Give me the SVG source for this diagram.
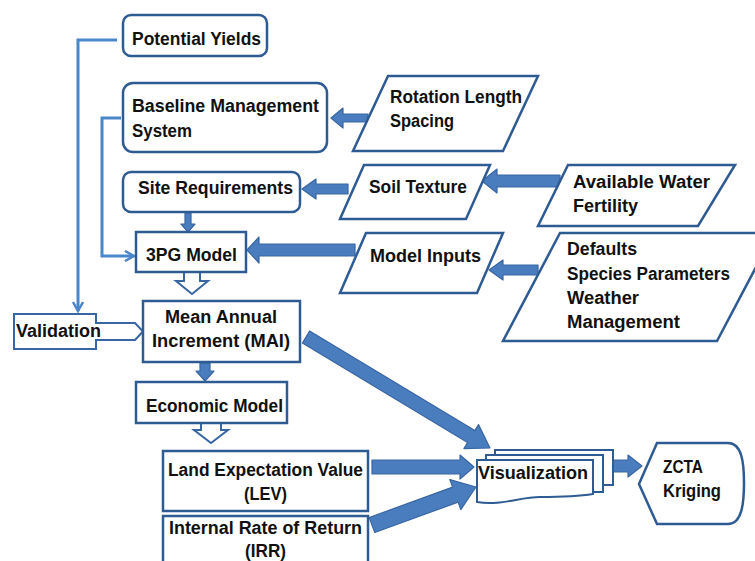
<svg xmlns="http://www.w3.org/2000/svg" width="755" height="561" viewBox="0 0 755 561">
<style>
.node{fill:#fff;stroke:#2e5b92;stroke-width:2.5}
.t{font-family:"Liberation Sans",Arial,sans-serif;font-weight:bold;font-size:18px;fill:#111}
.thick{fill:#4a7dbd;stroke:#3866a3;stroke-width:1.2;stroke-linejoin:round}
.hollow{fill:#fff;stroke:#3866a3;stroke-width:2;stroke-linejoin:miter}
.thin{fill:none;stroke:#4a87c9;stroke-width:3}
</style>
<defs>
<marker id="chev" viewBox="0 0 12 12" refX="10" refY="6" markerWidth="12" markerHeight="12" markerUnits="userSpaceOnUse" orient="auto">
<path d="M1,1 L10,6 L1,11" fill="none" stroke="#4a87c9" stroke-width="2.5"/>
</marker>
</defs>
<g id="connectors">
<path class="thin" d="M117,40 H78 V311" marker-end="url(#chev)"/>
<path class="thin" d="M121,118 H102 V256 H134" marker-end="url(#chev)"/>
<polygon class="thick" points="368,114 343,114 343,108 331,118 343,128 343,122 368,122"/>
<polygon class="thick" points="348,184 316,184 316,179 302,189 316,199 316,194 348,194"/>
<polygon class="thick" points="560,175 497,175 497,169 482,181 497,193 497,187 560,187"/>
<polygon class="thick" points="355,244 259,244 259,237 247,250 259,263 259,256 355,256"/>
<polygon class="thick" points="538,265 503,265 503,260 489,270 503,280 503,275 538,275"/>
<polygon class="thick" points="185,213 191,213 191,224 195,224 188,232 181,224 185,224"/>
<polygon class="thick" points="200,363 210,363 210,371 214,371 205,381 196,371 200,371"/>
<polygon class="thick" points="309.6,331 474.8,430.6 478.5,424.6 490,448 463.9,448.6 467.6,442.6 302.4,343"/>
<polygon class="thick" points="372,460 460,460 460,455 474,467 460,479 460,474 372,474"/>
<polygon class="thick" points="369.2,517.5 452.6,487.1 449.8,479.6 476,487 460.8,509.6 458.1,502.1 374.8,532.5"/>
<polygon class="thick" points="613,460 628,460 628,455 642,466 628,477 628,472 613,472"/>
<path class="hollow" d="M184,273 V281 H176 L192,294 L208,281 H200 V273"/>
<path class="hollow" d="M201,424 V430 H194 L211,443 L228,430 H221 V424"/>
</g>
<g id="potential-yields">
<rect class="node" x="123" y="15" width="144" height="41" rx="8"/>
<text class="t" x="132" y="45" textLength="129" lengthAdjust="spacingAndGlyphs">Potential Yields</text>
</g>
<g id="baseline">
<rect class="node" x="123" y="83" width="204" height="69" rx="10"/>
<text class="t" x="132" y="112" textLength="187" lengthAdjust="spacingAndGlyphs">Baseline Management</text>
<text class="t" x="132" y="137" textLength="60" lengthAdjust="spacingAndGlyphs">System</text>
</g>
<g id="site-requirements">
<rect class="node" x="123" y="172" width="177" height="40" rx="8"/>
<text class="t" x="138" y="194" textLength="155" lengthAdjust="spacingAndGlyphs">Site Requirements</text>
</g>
<g id="model-3pg">
<rect class="node" x="136" y="232" width="110" height="40"/>
<text class="t" x="146" y="261" textLength="91" lengthAdjust="spacingAndGlyphs">3PG Model</text>
</g>
<g id="rotation">
<polygon class="node" points="388,76 538,76 503,151 353,151"/>
<text class="t" x="390" y="103" textLength="132" lengthAdjust="spacingAndGlyphs">Rotation Length</text>
<text class="t" x="390" y="127" textLength="64" lengthAdjust="spacingAndGlyphs">Spacing</text>
</g>
<g id="soil-texture">
<polygon class="node" points="364,165 490,165 466,219 340,219"/>
<text class="t" x="369" y="193" textLength="98" lengthAdjust="spacingAndGlyphs">Soil Texture</text>
</g>
<g id="available-water">
<polygon class="node" points="568,165 735,165 698,226 538,226"/>
<text class="t" x="573" y="188" textLength="137" lengthAdjust="spacingAndGlyphs">Available  Water</text>
<text class="t" x="573" y="212" textLength="65" lengthAdjust="spacingAndGlyphs">Fertility</text>
</g>
<g id="model-inputs">
<polygon class="node" points="366,233 503,233 477,293 340,293"/>
<text class="t" x="370" y="262" textLength="111" lengthAdjust="spacingAndGlyphs">Model Inputs</text>
</g>
<g id="defaults">
<polygon class="node" points="560,233 774,233 717,341 503,341"/>
<text class="t" x="567" y="255" textLength="70" lengthAdjust="spacingAndGlyphs">Defaults</text>
<text class="t" x="567" y="280" textLength="163" lengthAdjust="spacingAndGlyphs">Species Parameters</text>
<text class="t" x="567" y="304" textLength="72" lengthAdjust="spacingAndGlyphs">Weather</text>
<text class="t" x="567" y="328" textLength="113" lengthAdjust="spacingAndGlyphs">Management</text>
</g>
<g id="validation">
<path class="hollow" d="M14,314 H96 V323 H135 L143,331.5 L135,340 H96 V349 H14 Z"/>
<text class="t" x="16" y="337" textLength="85" lengthAdjust="spacingAndGlyphs">Validation</text>
</g>
<g id="mai">
<rect class="node" x="143" y="301" width="157" height="61"/>
<text class="t" x="165" y="323" textLength="112" lengthAdjust="spacingAndGlyphs">Mean Annual</text>
<text class="t" x="152" y="347" textLength="138" lengthAdjust="spacingAndGlyphs">Increment (MAI)</text>
</g>
<g id="economic-model">
<rect class="node" x="136" y="382" width="151" height="41"/>
<text class="t" x="146" y="412" textLength="137" lengthAdjust="spacingAndGlyphs">Economic Model</text>
</g>
<g id="lev">
<rect class="node" x="163" y="451" width="205" height="60"/>
<text class="t" x="168" y="476" textLength="195" lengthAdjust="spacingAndGlyphs">Land Expectation Value</text>
<text class="t" x="244" y="500" textLength="43" lengthAdjust="spacingAndGlyphs">(LEV)</text>
</g>
<g id="irr">
<rect class="node" x="163" y="516" width="205" height="60"/>
<text class="t" x="169" y="534" textLength="193" lengthAdjust="spacingAndGlyphs">Internal Rate of Return</text>
<text class="t" x="245" y="557" textLength="41" lengthAdjust="spacingAndGlyphs">(IRR)</text>
</g>
<g id="visualization">
<rect class="node" x="495" y="450" width="118" height="35" style="stroke-width:2"/>
<rect class="node" x="486" y="455" width="117" height="37" style="stroke-width:2"/>
<path class="node" style="stroke-width:2" d="M477,460 H593 V494 C575,497 560,497 540,497 C520,497 500,506 477,502 Z"/>
<text class="t" x="478" y="479" textLength="110" lengthAdjust="spacingAndGlyphs">Visualization</text>
</g>
<g id="zcta-kriging">
<path class="node" d="M657,443 H728 C742,443 744,463 744,483 C744,503 742,524 728,524 H657 L639,484 Z"/>
<text class="t" x="663" y="473" textLength="40" lengthAdjust="spacingAndGlyphs">ZCTA</text>
<text class="t" x="663" y="497" textLength="58" lengthAdjust="spacingAndGlyphs">Kriging</text>
</g>
</svg>
